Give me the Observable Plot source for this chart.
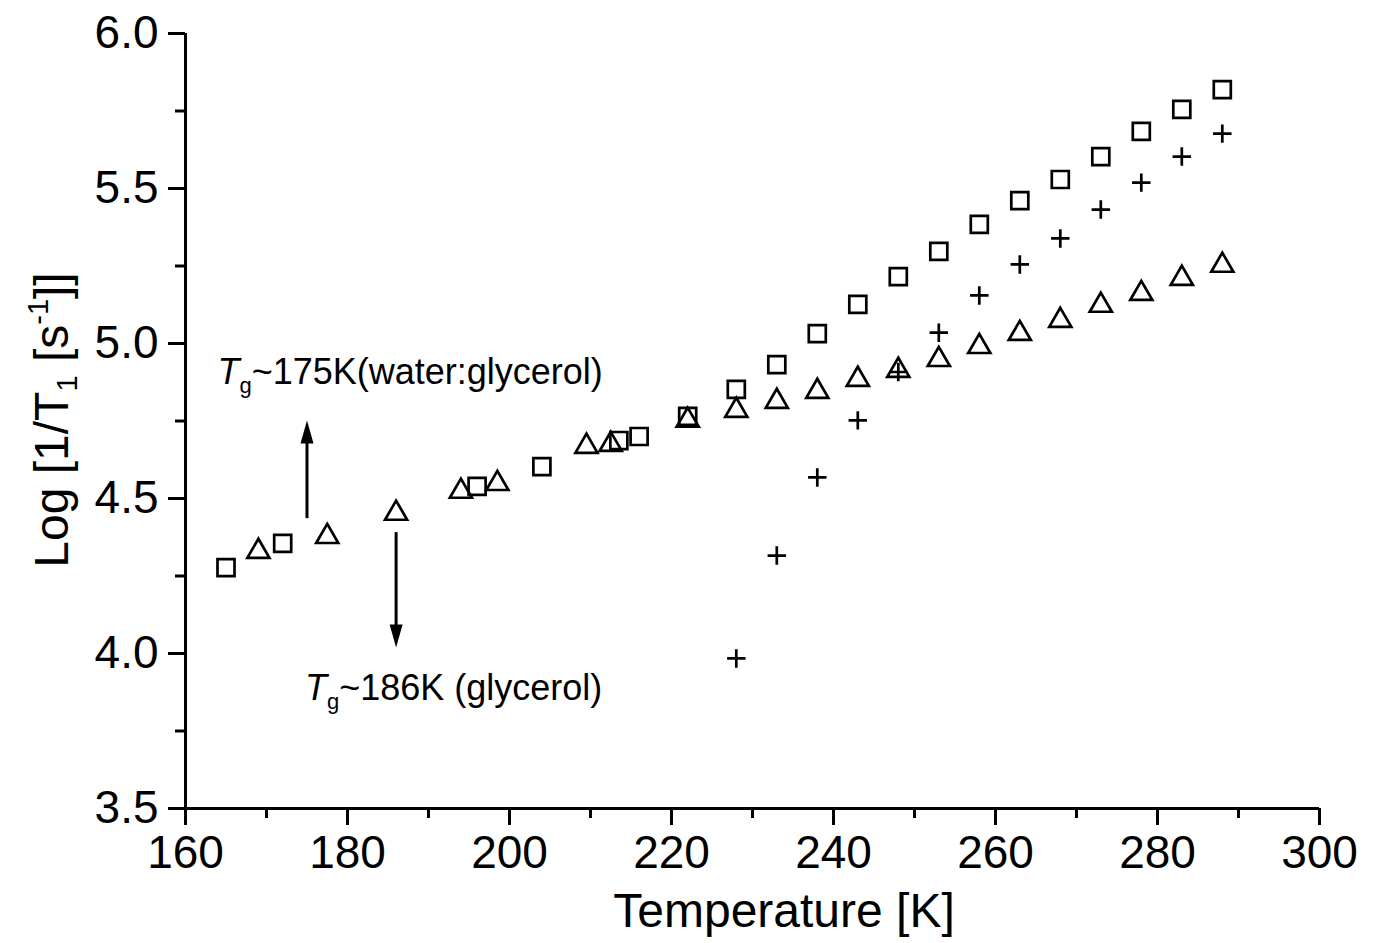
<!DOCTYPE html>
<html>
<head>
<meta charset="utf-8">
<script src="https://cdn.jsdelivr.net/npm/d3@7"></script>
<script src="https://cdn.jsdelivr.net/npm/@observablehq/plot@0.6"></script>
<style>
  html, body { margin: 0; padding: 0; background: #fff; }
  svg { display: block; }
</style>
</head>
<body>
<script>
// ---- data ----
const squareT = [165, 172, 196, 204, 213.5, 216, 222, 228, 233, 238, 243, 248, 253, 258, 263, 268, 273, 278, 283, 288];
const squareLog = [4.277, 4.355, 4.539, 4.603, 4.687, 4.700, 4.765, 4.852, 4.932, 5.032, 5.126, 5.216, 5.297, 5.384, 5.461, 5.529, 5.603, 5.684, 5.755, 5.819];

const triangleT = [169, 177.5, 186, 194, 198.5, 209.5, 212.5, 222, 228, 233, 238, 243, 248, 253, 258, 263, 268, 273, 278, 283, 288];
const triangleLog = [4.329, 4.377, 4.452, 4.523, 4.548, 4.668, 4.674, 4.752, 4.784, 4.813, 4.845, 4.884, 4.913, 4.948, 4.990, 5.032, 5.074, 5.123, 5.161, 5.210, 5.252];

const plusT = [228, 233, 238, 243, 248, 253, 258, 263, 268, 273, 278, 283, 288];
const plusLog = [3.984, 4.316, 4.568, 4.752, 4.908, 5.035, 5.155, 5.255, 5.339, 5.432, 5.519, 5.603, 5.677];

const xTicks = [160, 180, 200, 220, 240, 260, 280, 300];
const xMinorTicks = [170, 190, 210, 230, 250, 270, 290];
const yTicks = [3.5, 4.0, 4.5, 5.0, 5.5, 6.0];
const yMinorTicks = [3.75, 4.25, 4.75, 5.25, 5.75];

// Tg arrows: x position, tail value, tip value
const arrowT = [175, 186];
const arrowTail = [4.435, 4.39];
const arrowTip = [4.752, 4.019];

const xTitle = "Temperature [K]";
const annot1 = {T: 164, v: 4.868, main: "~175K(water:glycerol)"};
const annot2 = {T: 174.8, v: 3.848, main: "~186K (glycerol)"};

// ---- tables ----
const squares = squareT.map((t, i) => ({t, v: squareLog[i]}));
const triangles = triangleT.map((t, i) => ({t, v: triangleLog[i]}));
const pluses = plusT.map((t, i) => ({t, v: plusLog[i]}));

const headUp = {draw(ctx) { ctx.moveTo(0, 0); ctx.lineTo(-6.5, 23); ctx.lineTo(6.5, 23); ctx.closePath(); }};
const headDown = {draw(ctx) { ctx.moveTo(0, 0); ctx.lineTo(-6.5, -23); ctx.lineTo(6.5, -23); ctx.closePath(); }};

const FONT = "'Liberation Sans', Arial, Helvetica, sans-serif";
const SW = 2.7;

const chart = Plot.plot({
  width: 1375,
  height: 943,
  marginLeft: 185,
  marginRight: 56,
  marginTop: 33,
  marginBottom: 135,
  style: {fontFamily: FONT, color: "black", background: "white", overflow: "visible"},
  x: {domain: [160, 300]},
  y: {domain: [3.5, 6.0]},
  marks: [
    Plot.axisX({ticks: xTicks, tickSize: 17, tickPadding: 10, strokeWidth: 3, fontSize: 46, label: null, tickFormat: d => String(d)}),
    Plot.axisX({ticks: xMinorTicks, tickSize: 10, strokeWidth: 3, text: null, label: null}),
    Plot.axisY({ticks: yTicks, tickSize: 17, tickPadding: 10, strokeWidth: 3, fontSize: 46, label: null, tickFormat: d => d.toFixed(1)}),
    Plot.axisY({ticks: yMinorTicks, tickSize: 10, strokeWidth: 3, text: null, label: null}),
    Plot.ruleX([160], {strokeWidth: 3}),
    Plot.ruleY([3.5], {strokeWidth: 3}),
    // arrows
    Plot.ruleX([0], {x: () => arrowT[0], y1: () => arrowTip[0], y2: () => arrowTail[0], strokeWidth: 3, insetTop: 15}),
    Plot.ruleX([0], {x: () => arrowT[1], y1: () => arrowTail[1], y2: () => arrowTip[1], strokeWidth: 3, insetBottom: 15}),
    Plot.dot([0], {x: () => arrowT[0], y: () => arrowTip[0], symbol: headUp, fill: "black", stroke: "none", r: 5}),
    Plot.dot([0], {x: () => arrowT[1], y: () => arrowTip[1], symbol: headDown, fill: "black", stroke: "none", r: 5}),
    // data
    Plot.dot(squares, {x: "t", y: "v", symbol: "square", r: 9.6, fill: "none", stroke: "black", strokeWidth: SW}),
    Plot.dot(pluses, {x: "t", y: "v", symbol: "plus", r: 6, fill: "none", stroke: "black", strokeWidth: SW}),
    Plot.dot(triangles, {x: "t", y: "v", symbol: "triangle", r: 8.2, fill: "none", stroke: "black", strokeWidth: SW})
  ]
});

document.body.appendChild(chart);

// ---- titles and annotations (with sub/superscripts) ----
const svg = d3.select(chart);
const xs = chart.scale("x"), ys = chart.scale("y");

svg.append("text")
  .attr("x", 784).attr("y", 927)
  .attr("text-anchor", "middle")
  .attr("font-family", FONT).attr("font-size", 48).attr("fill", "black")
  .text(xTitle);

const yt = svg.append("text")
  .attr("transform", "translate(68,420) rotate(-90)")
  .attr("text-anchor", "middle")
  .attr("font-family", FONT).attr("font-size", 48).attr("fill", "black");
yt.append("tspan").text("Log [1/T");
yt.append("tspan").attr("font-size", 29).attr("dy", 9).text("1");
yt.append("tspan").attr("dy", -9).text(" [s");
yt.append("tspan").attr("font-size", 29).attr("dy", -20).text("-1");
yt.append("tspan").attr("dy", 20).text("]]");

function annot(a) {
  const t = svg.append("text")
    .attr("x", xs.apply(a.T)).attr("y", ys.apply(a.v))
    .attr("text-anchor", "start")
    .attr("font-family", FONT).attr("font-size", 36).attr("fill", "black");
  t.append("tspan").attr("font-style", "italic").text("T");
  t.append("tspan").attr("font-size", 22).attr("dy", 9).text("g");
  t.append("tspan").attr("dy", -9).text(a.main);
}
annot(annot1);
annot(annot2);
</script>
</body>
</html>
